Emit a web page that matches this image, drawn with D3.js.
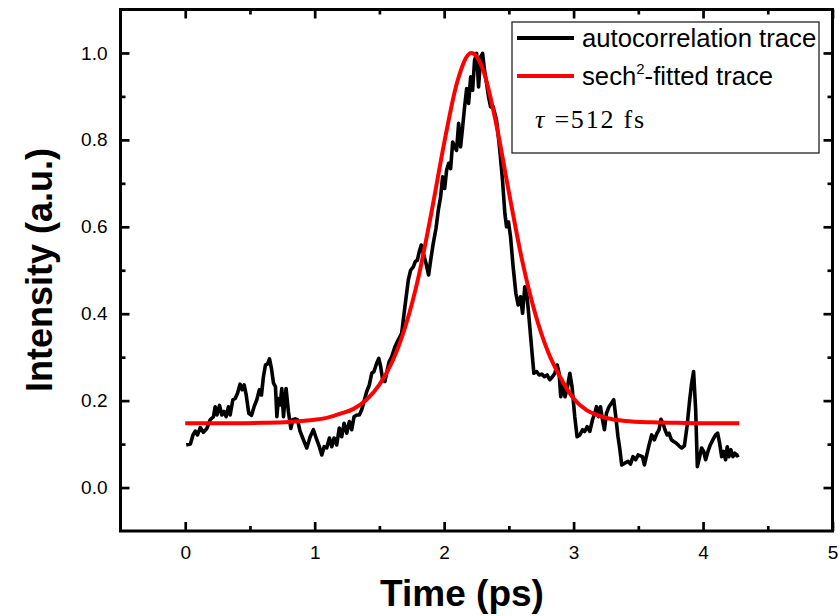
<html>
<head>
<style>
  body { margin: 0; background: #fff; }
  svg text { font-family: "Liberation Sans", Arial, sans-serif; }
</style>
</head>
<body>
<svg id="chart"></svg>
<script src="https://cdn.jsdelivr.net/npm/d3@7"></script>
<script>
// autocorrelation trace
var traceX = [0.008,0.04,0.06,0.077,0.095,0.116,0.14,0.167,0.193,0.218,0.231,0.245,0.265,0.283,0.30,0.316,0.334,0.347,0.368,0.386,0.404,0.424,0.44,0.455,0.471,0.491,0.512,0.532,0.553,0.573,0.589,0.604,0.62,0.635,0.651,0.666,0.682,0.697,0.708,0.72,0.733,0.746,0.759,0.779,0.797,0.816,0.831,0.849,0.867,0.887,
  0.913,0.939,0.965,0.99,1.016,1.036,1.055,1.073,1.093,1.114,1.132,1.15,1.17,1.19,1.209,1.227,1.248,1.268,1.286,1.304,1.325,1.345,1.363,1.381,1.402,1.422,1.441,1.458,1.479,1.495,1.51,1.525,1.543,1.561,1.576,1.595,1.62,1.646,1.672,
  1.697,1.723,1.741,1.762,1.777,1.793,1.808,1.823,1.839,1.86,1.88,1.896,1.916,1.937,1.955,1.973,1.988,2.004,2.019,2.035,2.05,2.066,2.081,2.096,2.112,2.127,2.143,2.158,2.174,2.189,2.205,2.22,2.235,2.251,2.266,2.282,2.297,2.312,2.328,2.343,2.359,2.379,2.405,2.43,2.451,2.469,2.482,2.497,2.513,2.533,2.554,2.572,
  2.59,2.606,2.623,2.641,2.657,2.675,2.693,2.714,2.734,2.755,2.775,2.796,2.816,2.837,2.855,2.873,2.888,2.901,2.919,2.934,2.953,2.971,2.988,3.009,3.027,3.048,3.069,3.086,3.104,3.125,3.146,3.164,3.177,3.192,3.208,3.223,3.238,3.254,3.274,3.292,3.31,3.326,3.343,3.356,
  3.372,3.395,3.421,3.439,3.459,3.48,3.498,3.516,3.532,3.547,3.562,3.583,3.603,3.624,3.644,3.66,3.675,3.691,3.706,3.722,3.737,3.755,3.773,3.794,3.814,3.835,3.856,3.876,3.897,3.912,3.927,3.943,3.956,3.974,3.989,4.005,4.02,4.038,4.056,4.076,4.097,4.113,4.128,4.144,4.159,4.174,4.187,4.2,4.215,4.231,4.246,4.262,4.277];
var traceY = [0.098,0.10,0.121,0.13,0.121,0.138,0.127,0.136,0.156,0.163,0.186,0.167,0.189,0.167,0.175,0.163,0.186,0.167,0.202,0.205,0.217,0.238,0.225,0.236,0.213,0.171,0.166,0.186,0.202,0.225,0.213,0.255,0.282,0.284,0.296,0.274,0.24,0.232,0.163,0.205,0.19,0.228,0.163,0.228,0.175,0.136,0.156,0.158,0.156,0.13,
  0.11,0.091,0.117,0.133,0.11,0.094,0.075,0.094,0.091,0.114,0.094,0.114,0.098,0.137,0.117,0.148,0.125,0.152,0.133,0.163,0.167,0.167,0.179,0.198,0.221,0.236,0.263,0.267,0.286,0.297,0.278,0.248,0.244,0.271,0.29,0.301,0.324,0.34,0.355,
  0.416,0.477,0.5,0.508,0.52,0.523,0.543,0.558,0.539,0.516,0.489,0.523,0.562,0.596,0.638,0.669,0.715,0.688,0.73,0.746,0.734,0.795,0.784,0.776,0.838,0.784,0.83,0.876,0.918,0.884,0.945,0.914,0.983,0.999,0.922,0.991,0.999,0.96,0.93,0.899,0.876,0.876,0.845,0.776,0.707,0.631,0.6,0.611,0.577,0.508,0.447,0.42,
  0.439,0.401,0.462,0.439,0.386,0.324,0.263,0.267,0.259,0.261,0.255,0.259,0.248,0.255,0.263,0.282,0.263,0.209,0.236,0.209,0.232,0.263,0.232,0.163,0.117,0.121,0.133,0.129,0.14,0.129,0.156,0.171,0.186,0.163,0.186,0.156,0.133,0.171,0.186,0.194,0.202,0.163,0.117,0.091,
  0.052,0.056,0.06,0.054,0.071,0.064,0.075,0.073,0.071,0.052,0.071,0.098,0.121,0.11,0.125,0.133,0.157,0.148,0.133,0.121,0.125,0.11,0.106,0.102,0.096,0.091,0.096,0.14,0.202,0.24,0.267,0.179,0.048,0.071,0.091,0.083,0.064,0.083,0.098,0.11,0.121,0.125,0.102,0.071,0.083,0.064,0.094,0.071,0.087,0.071,0.079,0.073,0.075];

// sech^2 fitted trace
var fitX = [0,0.2,0.4,0.6,0.8,1.0,1.1,1.2,1.3,1.4,1.5,1.6,1.7,1.8,1.9,2.0,2.1,2.21,2.3,2.4,2.5,2.6,2.7,2.8,2.9,3.0,3.1,3.2,3.3,3.4,3.6,3.8,4.0,4.28];
var fitY = [0.148,0.148,0.148,0.149,0.151,0.156,0.161,0.170,0.181,0.202,0.237,0.290,0.370,0.482,0.630,0.792,0.932,1.0,0.962,0.840,0.680,0.526,0.404,0.314,0.252,0.205,0.178,0.165,0.157,0.153,0.150,0.149,0.148,0.148];

var xMajor = [0,1,2,3,4,5];
var xMinor = [0.5,1.5,2.5,3.5,4.5];
var yMajor = [0.0,0.2,0.4,0.6,0.8,1.0];
var yMinor = [0.1,0.3,0.5,0.7,0.9];

var width = 840, height = 616;
var svg = d3.select("#chart").attr("width", width).attr("height", height);

var x = d3.scaleLinear().domain([-0.5, 5]).range([120.5, 832.5]);
var y = d3.scaleLinear().domain([-0.1, 1.1]).range([531, 9.5]);

// data lines
var trace = traceX.map((d, i) => [d, traceY[i]]);
var fit = fitX.map((d, i) => [d, fitY[i]]);

var line = d3.line().x(d => x(d[0])).y(d => y(d[1]));

svg.append("path")
    .datum(trace)
    .attr("d", line)
    .attr("fill", "none")
    .attr("stroke", "#000")
    .attr("stroke-width", 3.6)
    .attr("stroke-linejoin", "round");

svg.append("path")
    .datum(fit)
    .attr("d", line.curve(d3.curveMonotoneX))
    .attr("fill", "none")
    .attr("stroke", "#ff0000")
    .attr("stroke-width", 4);

// axes, ticks pointing inward
function styleAxis(g) {
    g.select(".domain").remove();
    g.selectAll(".tick line").attr("stroke", "#000").attr("stroke-width", 2.7);
    g.selectAll(".tick text").attr("fill", "#000").style("font-size", "19px")
        .style("font-family", "'Liberation Sans', Arial, sans-serif");
}

svg.append("g").attr("transform", "translate(0,531)")
    .call(d3.axisBottom(x).tickValues(xMajor).tickSize(-9).tickPadding(15).tickFormat(d3.format("d")))
    .call(styleAxis);
svg.append("g").attr("transform", "translate(0,531)")
    .call(d3.axisBottom(x).tickValues(xMinor).tickSize(-5).tickFormat(""))
    .call(styleAxis);
svg.append("g").attr("transform", "translate(0,9.5)")
    .call(d3.axisTop(x).tickValues(xMajor).tickSize(-9).tickFormat(""))
    .call(styleAxis);
svg.append("g").attr("transform", "translate(0,9.5)")
    .call(d3.axisTop(x).tickValues(xMinor).tickSize(-5).tickFormat(""))
    .call(styleAxis);

svg.append("g").attr("transform", "translate(120.5,0)")
    .call(d3.axisLeft(y).tickValues(yMajor).tickSize(-9).tickPadding(13).tickFormat(d3.format(".1f")))
    .call(styleAxis);
svg.append("g").attr("transform", "translate(120.5,0)")
    .call(d3.axisLeft(y).tickValues(yMinor).tickSize(-5).tickFormat(""))
    .call(styleAxis);
svg.append("g").attr("transform", "translate(832.5,0)")
    .call(d3.axisRight(y).tickValues(yMajor).tickSize(-9).tickFormat(""))
    .call(styleAxis);
svg.append("g").attr("transform", "translate(832.5,0)")
    .call(d3.axisRight(y).tickValues(yMinor).tickSize(-5).tickFormat(""))
    .call(styleAxis);

// frame
svg.append("rect")
    .attr("x", 120.5).attr("y", 9.5)
    .attr("width", 712).attr("height", 521.5)
    .attr("fill", "none")
    .attr("stroke", "#000")
    .attr("stroke-width", 3);

// axis titles
svg.append("text")
    .attr("x", 462).attr("y", 606)
    .attr("text-anchor", "middle")
    .style("font-size", "37px").style("font-weight", "bold")
    .text("Time (ps)");

svg.append("text")
    .attr("transform", "translate(52,270) rotate(-90)")
    .attr("text-anchor", "middle")
    .style("font-size", "36px").style("font-weight", "bold")
    .text("Intensity (a.u.)");

// legend
var legend = svg.append("g");
legend.append("rect")
    .attr("x", 512).attr("y", 22).attr("width", 307).attr("height", 131)
    .attr("fill", "#fff").attr("stroke", "#222").attr("stroke-width", 1.3);

legend.append("line")
    .attr("x1", 517).attr("x2", 574).attr("y1", 38).attr("y2", 38)
    .attr("stroke", "#000").attr("stroke-width", 4);
legend.append("line")
    .attr("x1", 517).attr("x2", 574).attr("y1", 76).attr("y2", 76)
    .attr("stroke", "#ff0000").attr("stroke-width", 4);

legend.append("text")
    .attr("x", 582).attr("y", 47)
    .style("font-size", "25.7px")
    .text("autocorrelation trace");

var t2 = legend.append("text")
    .attr("x", 582).attr("y", 85)
    .style("font-size", "25.7px");
t2.append("tspan").text("sech");
t2.append("tspan").attr("dy", -11).style("font-size", "15px").text("2");
t2.append("tspan").attr("dy", 11).text("-fitted trace");

var t3 = legend.append("text")
    .attr("x", 535).attr("y", 128)
    .style("font-family", "'Liberation Serif', 'DejaVu Serif', serif")
    .style("font-size", "26px")
    .style("letter-spacing", "1.8px");
t3.append("tspan").style("font-style", "italic").text("\u03C4");
t3.append("tspan").text(" =512 fs");
</script>
</body>
</html>
